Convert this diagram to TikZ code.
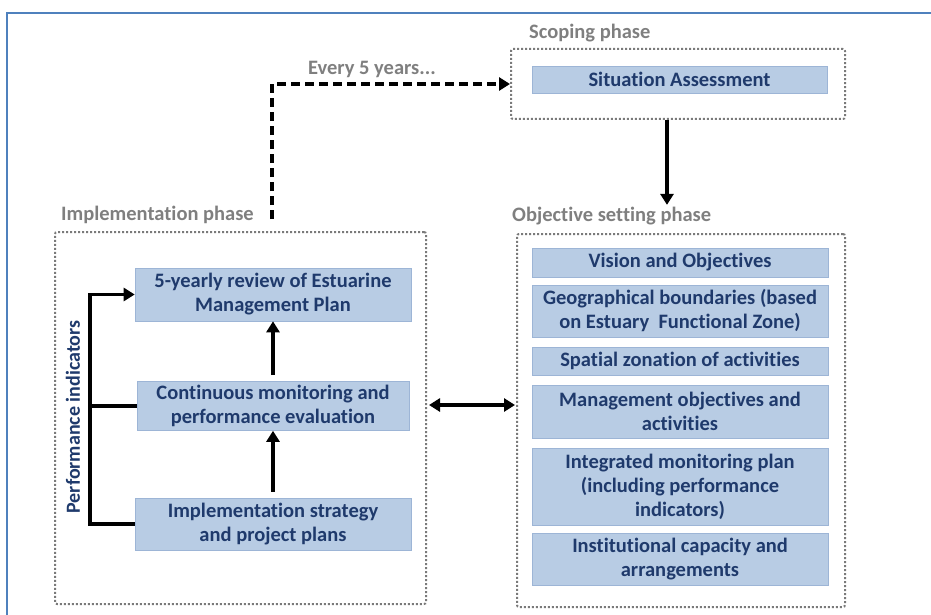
\documentclass[tikz,border=0pt]{standalone}
\usepackage{fontspec}
\setmainfont[Ligatures=NoCommon]{Carlito}
\usetikzlibrary{arrows.meta}

\definecolor{boxfill}{HTML}{B8CCE4}
\definecolor{boxedge}{HTML}{9DB5D6}
\definecolor{boxtext}{HTML}{1F3A6C}
\definecolor{phasegray}{HTML}{7F7F7F}
\definecolor{framegray}{HTML}{7A7A7A}
\definecolor{outerblue}{HTML}{4F81BD}

\begin{document}
\begin{tikzpicture}[x=1pt,y=-1pt,
  stepbox/.style={draw=boxedge, line width=0.6pt, fill=boxfill, text=boxtext,
    font=\fontsize{20.5}{24}\selectfont\bfseries, align=center, inner sep=0pt},
  phasebox/.style={draw=framegray, line width=2pt, dash pattern=on 2pt off 2pt,
    rounded corners=2pt, inner sep=0pt},
  phaselbl/.style={text=phasegray, font=\fontsize{20.5}{24}\selectfont\bfseries, inner sep=0pt},
  arr/.style={line width=3.5pt, -{Triangle[length=11pt,width=13pt]}},
  dblarr/.style={line width=3.5pt, {Triangle[length=11pt,width=13pt]}-{Triangle[length=11pt,width=13pt]}},
  dasharr/.style={line width=3.5pt, dash pattern=on 9pt off 5pt, -{Triangle[length=11pt,width=13pt]}},
  plain/.style={line width=3.5pt}
]
\useasboundingbox (0,0) rectangle (931,615);

% outer page frame
\draw[outerblue, line width=2.5pt] (931,13) -- (7,13) -- (7,615);

% phase frames
\node[phasebox, minimum width=334pt, minimum height=70pt] (scope) at (678,84) {};
\node[phasebox, minimum width=371pt, minimum height=372pt] (impl) at (240.5,418) {};
\node[phasebox, minimum width=328pt, minimum height=373pt] (obj) at (681,420.5) {};

% phase labels
\node[phaselbl, anchor=west] (scopelbl) at (529,33) {Scoping phase};
\node[phaselbl, anchor=west] (impllbl) at (61,215) {Implementation phase};
\node[phaselbl, anchor=west] (objlbl) at (512,216) {Objective setting phase};
\node[phaselbl] (everylbl) at (372,69) {Every 5 years...};

% scoping phase
\node[stepbox, minimum width=295pt, minimum height=27pt] (sit) at (679.5,79.5) {Situation Assessment};

% implementation phase
\node[stepbox, minimum width=276pt, minimum height=53pt] (rev) at (273,294.5)
  {5-yearly review of Estuarine\\Management Plan};
\node[stepbox, minimum width=272pt, minimum height=49pt] (mon) at (273,406)
  {Continuous monitoring and\\performance evaluation};
\node[stepbox, minimum width=276pt, minimum height=52pt] (imp) at (273,524)
  {Implementation strategy\\and project plans};
\node[rotate=90, text=boxtext, font=\fontsize{20}{24}\selectfont\bfseries, inner sep=0pt]
  (perf) at (73,417) {Performance indicators};

% objective setting phase
\node[stepbox, minimum width=296pt, minimum height=29pt] (vis) at (680,262.5) {Vision and Objectives};
\node[stepbox, minimum width=296pt, minimum height=52pt] (geo) at (680,311)
  {Geographical boundaries (based\\on Estuary\ \ Functional Zone)};
\node[stepbox, minimum width=296pt, minimum height=28pt] (spa) at (680,361) {Spatial zonation of activities};
\node[stepbox, minimum width=296pt, minimum height=53pt] (man) at (680,411.5)
  {Management objectives and\\activities};
\node[stepbox, minimum width=296pt, minimum height=77pt] (int) at (680,486.5)
  {Integrated monitoring plan\\(including performance\\indicators)};
\node[stepbox, minimum width=296pt, minimum height=52pt] (ins) at (680,559)
  {Institutional capacity and\\arrangements};

% connectors
\coordinate (drop) at (667,0);
\coordinate (dstart) at (272,219);
\coordinate (dbl) at (0,405);
\coordinate (pbar) at (90,400);

\draw[arr, shorten >=2pt] (scope.south -| drop) -- (objlbl.north -| drop);
\draw[dasharr] (dstart) |- (scope.west);
\draw[dblarr, shorten <=2pt, shorten >=1pt] (impl.east |- dbl) -- (obj.west |- dbl);
\draw[arr, shorten <=6pt] (mon.north) -- (rev.south);
\draw[arr, shorten <=6pt] (imp.north) -- (mon.south);
\draw[arr] (imp.west) -| (pbar) |- (rev.west);
\draw[plain] (mon.west) -- (mon.west -| pbar);
\end{tikzpicture}
\end{document}
